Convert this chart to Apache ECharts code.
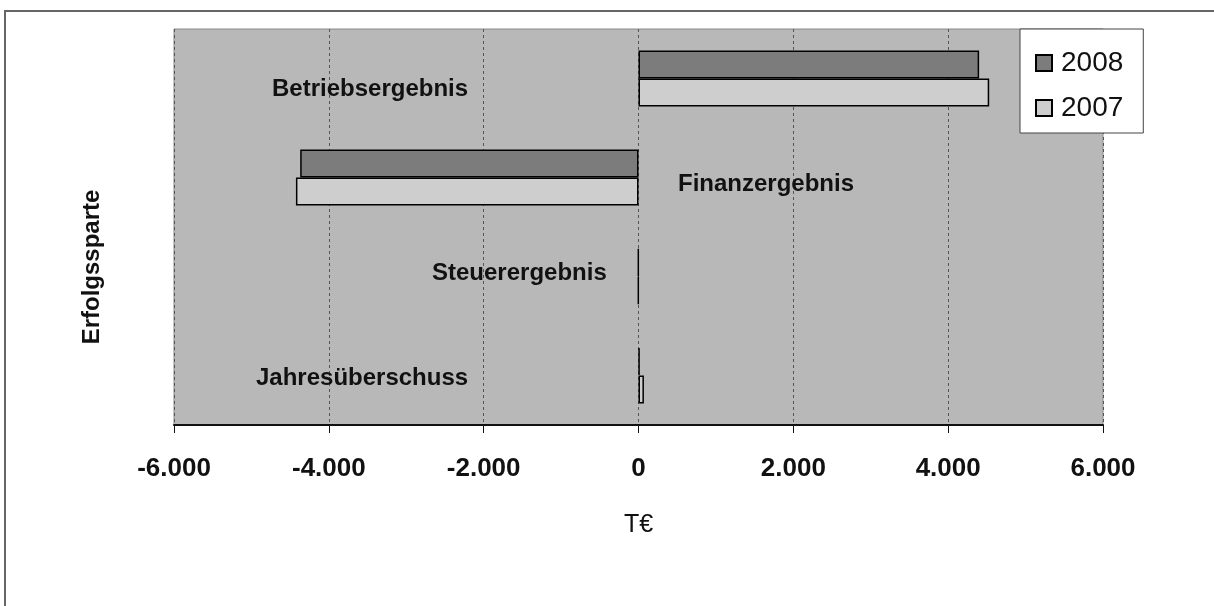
<!DOCTYPE html>
<html>
<head>
<meta charset="utf-8">
<script src="https://cdn.jsdelivr.net/npm/echarts@6/dist/echarts.min.js"></script>
<style>
    html, body { margin: 0; padding: 0; background: #fff; }
    #chart { width: 1214px; height: 606px; }
</style>
</head>
<body>
<div id="chart"></div>
<script>
const categories = ['Betriebsergebnis', 'Finanzergebnis', 'Steuerergebnis', 'Jahresüberschuss']
const values2008 = [4400, -4370, -5, 15]
const values2007 = [4530, -4425, -5, 70]
const xTicks = [-6000, -4000, -2000, 0, 2000, 4000, 6000]

// German thousands separator
function fmt(v) {
    const s = String(Math.abs(v)).replace(/\B(?=(\d{3})+(?!\d))/g, '.')
    return (v < 0 ? '-' : '') + s
}

const myChart = echarts.init(document.getElementById('chart'))

// category text sits next to the bars, Excel style
const labelSpots = [
    { left: 272, top: 77 },
    { left: 678, top: 172 },
    { left: 432, top: 261 },
    { left: 256, top: 366 }
]

const option = {
    animation: false,
    textStyle: { fontFamily: 'Arial, "Liberation Sans", sans-serif' },
    legend: {
        data: ['2008', '2007'],
        orient: 'vertical',
        left: 1020,
        top: 29,
        padding: [20, 20, 11, 15],
        itemGap: 17,
        itemWidth: 16,
        itemHeight: 16,
        icon: 'rect',
        backgroundColor: '#fff',
        borderColor: '#444',
        borderWidth: 1,
        borderRadius: 0,
        textStyle: { fontSize: 28, color: '#111', padding: [0, 0, 0, 4] }
    },
    grid: {
        left: 174,
        right: 111,
        top: 29,
        bottom: 181,
        show: true,
        backgroundColor: '#b8b8b8',
        borderColor: '#8a8a8a',
        borderWidth: 1
    },
    xAxis: {
        type: 'value',
        min: xTicks[0],
        max: xTicks[xTicks.length - 1],
        interval: 2000,
        name: 'T€',
        nameLocation: 'middle',
        nameGap: 88,
        nameTextStyle: { fontSize: 25, color: '#111' },
        axisLine: { show: true, onZero: false, lineStyle: { color: '#111', width: 2 } },
        axisTick: { show: true, length: 8, lineStyle: { color: '#111' } },
        axisLabel: { fontSize: 26, fontWeight: 'bold', color: '#111', margin: 31, formatter: fmt },
        splitLine: { show: true, lineStyle: { color: '#555', type: [3, 3], width: 1 } }
    },
    yAxis: {
        type: 'category',
        data: categories,
        inverse: true,
        axisLine: { show: false },
        axisTick: { show: false },
        axisLabel: { show: false },
        splitLine: { show: false }
    },
    series: [
        {
            name: '2008',
            type: 'bar',
            data: values2008,
            barWidth: 28,
            barGap: '0%',
            itemStyle: { color: '#7c7c7c', borderColor: '#000', borderWidth: 1.5 }
        },
        {
            name: '2007',
            type: 'bar',
            data: values2007,
            barWidth: 28,
            barGap: '0%',
            itemStyle: { color: '#cecece', borderColor: '#000', borderWidth: 1.5 }
        }
    ],
    graphic: [
        {
            type: 'rect',
            silent: true,
            shape: { x: 5, y: 11, width: 1400, height: 800 },
            style: { fill: 'none', stroke: '#666', lineWidth: 2 }
        },
        {
            type: 'text',
            x: 92,
            y: 267,
            rotation: Math.PI / 2,
            style: {
                text: 'Erfolgssparte',
                fontSize: 24,
                fontWeight: 'bold',
                fill: '#111',
                fontFamily: 'Arial, "Liberation Sans", sans-serif',
                align: 'center',
                verticalAlign: 'middle'
            }
        }
    ].concat(categories.map((c, i) => ({
        type: 'text',
        left: labelSpots[i].left,
        top: labelSpots[i].top,
        z: 10,
        style: {
            text: c,
            fontSize: 24,
            fontWeight: 'bold',
            fill: '#111',
            fontFamily: 'Arial, "Liberation Sans", sans-serif'
        }
    })))
}

myChart.setOption(option)
</script>
</body>
</html>
